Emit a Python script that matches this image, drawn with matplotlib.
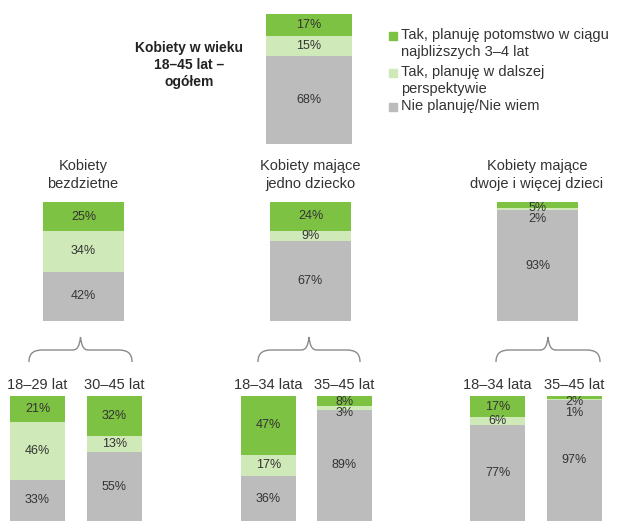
import matplotlib.pyplot as plt
from matplotlib.path import Path
from matplotlib.patches import PathPatch

plt.rcParams['font.family'] = ['Liberation Sans', 'DejaVu Sans']

# categories / data
series = ['Tak, planuję potomstwo w ciągu\nnajbliższych 3–4 lat',
          'Tak, planuję w dalszej\nperspektywie',
          'Nie planuję/Nie wiem']
colors = ['#7dc242', '#cfe9b8', '#bcbcbc']

total_label = 'Kobiety w wieku\n18–45 lat –\nogółem'
total_vals = [17, 15, 68]

groups = ['Kobiety\nbezdzietne', 'Kobiety mające\njedno dziecko', 'Kobiety mające\ndwoje i więcej dzieci']
group_vals = [[25, 34, 42], [24, 9, 67], [5, 2, 93]]

sub_labels = ['18–29 lat', '30–45 lat', '18–34 lata', '35–45 lat', '18–34 lata', '35–45 lat']
sub_vals = [[21, 46, 33], [32, 13, 55], [47, 17, 36], [8, 3, 89], [17, 6, 77], [2, 1, 97]]

W, H = 624, 521
fig = plt.figure(figsize=(W / 100, H / 100), dpi=100)
TXT = '#333333'


def bar_axes(x0, x1, y0, y1):
    return fig.add_axes([x0 / W, 1 - y1 / H, (x1 - x0) / W, (y1 - y0) / H])


def stacked(ax, vals, px_h, fs=9):
    tot = sum(vals)
    bottom = 0
    gap = 11 / px_h * tot
    last = 6 / px_h * tot - gap   # keep first label a little below the bar top
    for v, c in zip(vals, colors):
        ax.bar(0, v, bottom=bottom, width=1, color=c, align='center')
        mid = bottom + v / 2
        # push tiny labels apart so they don't overlap
        y = max(mid, last + gap)
        ax.text(0, y, f'{v}%', ha='center', va='center', fontsize=fs, color=TXT)
        last = y
        bottom += v
    ax.set_xlim(-0.5, 0.5)
    ax.set_ylim(tot, 0)
    ax.axis('off')


# top overall bar
ax = bar_axes(266, 352, 14, 144)
stacked(ax, total_vals, 130)

# middle bars
mid_x = [43, 270, 497]
for x, vals in zip(mid_x, group_vals):
    ax = bar_axes(x, x + 81, 202, 321)
    stacked(ax, vals, 119)

# bottom bars
sub_x = [10, 87, 241, 317, 470, 547]
for x, vals in zip(sub_x, sub_vals):
    ax = bar_axes(x, x + 55, 396, 521)
    stacked(ax, vals, 125)

# overlay for titles, braces and legend
ov = fig.add_axes([0, 0, 1, 1])
ov.set_xlim(0, W)
ov.set_ylim(H, 0)
ov.axis('off')

ov.text(189, 65, total_label, ha='center', va='center', fontsize=10,
        fontweight='bold', color='#222222', linespacing=1.3)

for x, g in zip(mid_x, groups):
    ov.text(x + 40, 175, g, ha='center', va='center', fontsize=10.5, color=TXT, linespacing=1.4)

for x, s in zip(sub_x, sub_labels):
    ov.text(x + 27.5, 385, s, ha='center', va='center', fontsize=10.5, color=TXT)

# braces
for xl, xr in [(29, 132), (258, 360), (496, 600)]:
    xc = (xl + xr) / 2
    verts = [(xl, 362), (xl, 352), (xl + 6, 350), (xl + 14, 350),
             (xc - 8, 350),
             (xc - 3, 350), (xc - 1, 346), (xc, 337),
             (xc + 1, 346), (xc + 3, 350), (xc + 8, 350),
             (xr - 14, 350),
             (xr - 6, 350), (xr, 352), (xr, 362)]
    codes = [Path.MOVETO, Path.CURVE4, Path.CURVE4, Path.CURVE4,
             Path.LINETO,
             Path.CURVE4, Path.CURVE4, Path.CURVE4,
             Path.CURVE4, Path.CURVE4, Path.CURVE4,
             Path.LINETO,
             Path.CURVE4, Path.CURVE4, Path.CURVE4]
    ov.add_patch(PathPatch(Path(verts, codes), fill=False, edgecolor='#8a8a8a', lw=1))

# legend
leg_y = [36, 73, 107]
for y, s, c in zip(leg_y, series, colors):
    ov.plot(393, y, 's', color=c, markersize=6)
    ov.text(401, y - 8, s, ha='left', va='top', fontsize=10.5, color=TXT, linespacing=1.3)

fig.savefig('out.png', dpi=100)
